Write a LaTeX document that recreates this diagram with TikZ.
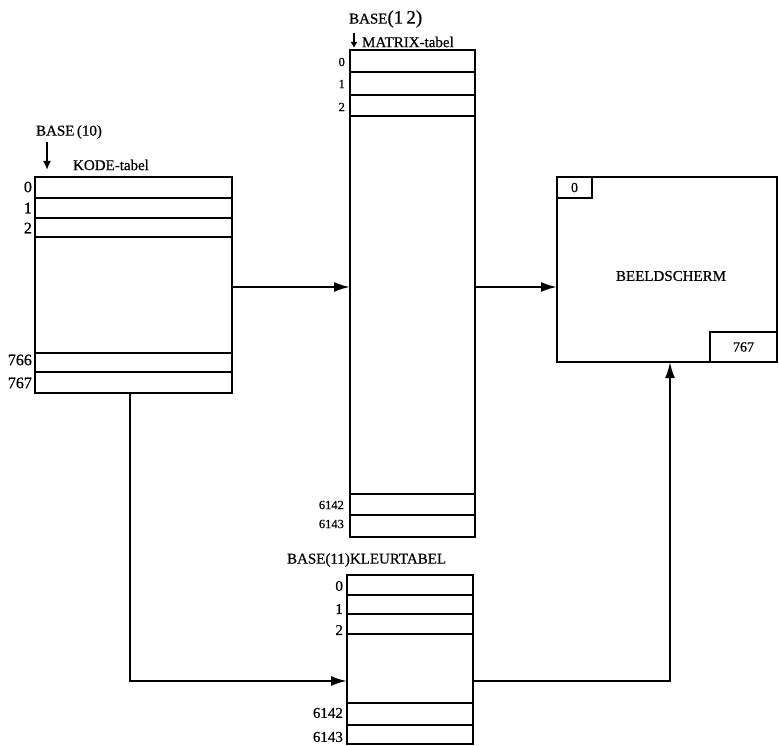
\documentclass[tikz,border=0pt]{standalone}
\usepackage{fontspec}
\setmainfont{Liberation Serif}[FakeBold=0.6]
\usetikzlibrary{arrows.meta}
\begin{document}
\begin{tikzpicture}[x=1pt,y=-1pt, line width=2.2pt,
  tbl/.style={draw, rectangle, inner sep=0pt, outer sep=0pt, anchor=north west},
  txt/.style={font=\fontsize{15}{17}\selectfont, inner sep=0pt},
  numk/.style={font=\fontsize{16}{18}\selectfont, inner sep=0pt, anchor=east},
  numm/.style={font=\fontsize{12.5}{14}\selectfont, inner sep=0pt, anchor=east},
  numl/.style={font=\fontsize{15}{17}\selectfont, inner sep=0pt, anchor=east},
  flow/.style={-{Latex[length=16pt,width=10pt]}},
  rowline/.style={line width=2.2pt}
]
\useasboundingbox (0,0) rectangle (779,746);

% KODE-tabel
\node[tbl, minimum width=197pt, minimum height=216pt] (kode) at (35,177) {};
\foreach \yy in {198,218,237,353,372} \draw[rowline] (35,\yy) -- (232,\yy);
\node[numk] (k0) at (33,187) {0};
\node[numk] (k1) at (33,208) {1};
\node[numk] (k2) at (33,228) {2};
\node[numk] (k766) at (33,360) {766};
\node[numk] (k767) at (33,383) {767};
\node[txt, anchor=west] (kbase) at (35,132) {BASE\,(10)};
\node[txt, anchor=west] (ktitle) at (72,165) {KODE-tabel};
\coordinate (ka1) at (47,142);
\coordinate (ka2) at (47,170);
\draw[line width=2.4pt, -{Latex[length=9pt,width=8pt]}] (ka1) -- (ka2);

% MATRIX-tabel
\node[tbl, minimum width=125pt, minimum height=487pt] (matrix) at (350,50) {};
\foreach \yy in {72,95,116,494,515} \draw[rowline] (350,\yy) -- (475,\yy);
\node[numm] (m0) at (346,62) {0};
\node[numm] (m1) at (346,84) {1};
\node[numm] (m2) at (346,107) {2};
\node[numm] (m6142) at (345,505) {6142};
\node[numm] (m6143) at (345,524) {6143};
\node[txt, anchor=west] (mbase) at (348,19) {BASE{\fontsize{19}{21}\selectfont(1\,2)}};
\node[txt, anchor=west] (mtitle) at (361,42) {MATRIX-tabel};
\coordinate (ma1) at (354,33);
\coordinate (ma2) at (354,48);
\draw[line width=1.8pt, -{Latex[length=6pt,width=7pt]}] (ma1) -- (ma2);

% KLEURTABEL
\node[tbl, minimum width=126pt, minimum height=169pt] (kleur) at (347,575) {};
\foreach \yy in {595,614,634,703,725} \draw[rowline] (347,\yy) -- (473,\yy);
\node[numl] (l0) at (344,586) {0};
\node[numl] (l1) at (344,609) {1};
\node[numl] (l2) at (344,630) {2};
\node[numl] (l6142) at (344,713) {6142};
\node[numl] (l6143) at (344,737) {6143};
\node[txt, anchor=west] (ltitle) at (286,560) {BASE(11)KLEURTABEL};

% BEELDSCHERM
\node[tbl, minimum width=220pt, minimum height=185pt] (beeld) at (557,177) {};
\node[txt] (btext) at (671,276) {BEELDSCHERM};
\node[tbl, minimum width=35pt, minimum height=21pt, font=\fontsize{14}{16}\selectfont] (b0) at (557,177) {0};
\node[draw, rectangle, inner sep=0pt, outer sep=0pt, anchor=south east, minimum width=67pt, minimum height=30pt, font=\fontsize{14}{16}\selectfont] (b767) at (777,362) {767};

% connectors
\coordinate (c1) at (130,681);
\coordinate (c2) at (670,681);
\coordinate (hy) at (0,287);
\draw[flow] (kode.east |- hy) -- (matrix.west |- hy);
\draw[flow] (matrix.east |- hy) -- (beeld.west |- hy);
\draw[flow] (c1 |- kode.south) -- (c1) -- (kleur.west |- c1);
\draw[flow] (kleur.east |- c2) -- (c2) -- (c2 |- beeld.south);
\end{tikzpicture}
\end{document}
